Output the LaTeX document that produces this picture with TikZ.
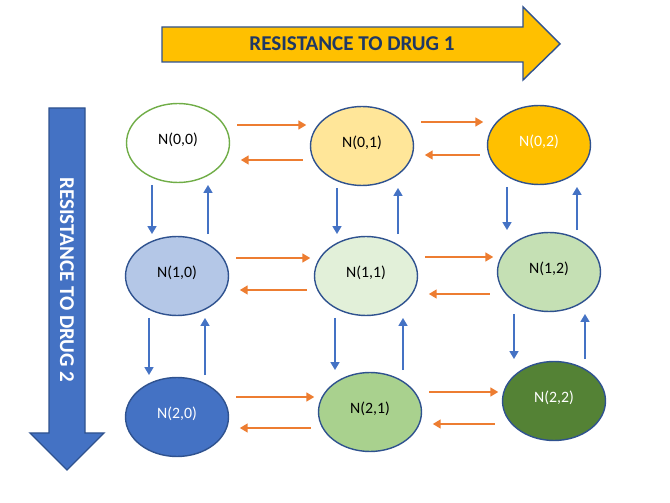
\documentclass[tikz,border=0pt]{standalone}
\usepackage{fontspec}
\setmainfont{Carlito}
\usetikzlibrary{arrows.meta}
\usetikzlibrary{shapes.geometric}
\definecolor{darkline}{HTML}{2F528F}
\definecolor{orangeline}{HTML}{ED7D31}
\definecolor{blueline}{HTML}{4472C4}
\definecolor{greenline}{HTML}{70AD47}
\definecolor{drugone}{HTML}{FFC000}
\definecolor{drugtwo}{HTML}{4472C4}
\definecolor{navytext}{HTML}{1F3864}
\definecolor{fillA}{HTML}{FFE699}
\definecolor{fillB}{HTML}{B4C7E7}
\definecolor{fillC}{HTML}{E2F0D9}
\definecolor{fillD}{HTML}{C5E0B4}
\definecolor{fillE}{HTML}{A9D18E}
\definecolor{fillF}{HTML}{548235}
\tikzset{state/.style={draw=darkline,
                       ellipse,
                       line width=0.8pt,
                       minimum width=2.06cm,
                       minimum height=1.58cm,
                       inner sep=0pt,
                       text height=6.5pt,
                       text depth=5pt,
                       font=\fontsize{9}{11}\selectfont}}
\tikzset{fwd/.style={draw=orangeline,
                     line width=1.1pt,
                     -{Triangle[length=4.5pt,width=5pt]}}}
\tikzset{vert/.style={draw=blueline,
                      line width=1.1pt,
                      -{Triangle[length=4.5pt,width=5pt]},
                      shorten <=1pt,shorten >=1pt}}
\tikzset{bigarrow/.style={draw=darkline,line width=0.8pt}}

\begin{document}
\begin{tikzpicture}
      [
      x=0.02cm,y=-0.02cm,
      bigtext/.style={font=\fontsize{12}{14}\selectfont\bfseries},
      ]
      \useasboundingbox (0,0) rectangle (670,503);

      % big arrows
      \path [bigarrow,fill=drugone] (162,27) -- (523,27) -- (523,7) -- (560,44)
      -- (523,80) -- (523,62) -- (162,62) -- cycle;
      \node [bigtext,text=navytext] (drug1) at (352,44) {RESISTANCE TO DRUG 1};

      \path [bigarrow,fill=drugtwo] (49,108) -- (85,108) -- (85,433) -- (104,433)
      -- (67,470) -- (30,433) -- (49,433) -- cycle;
      \node [bigtext,text=white,rotate=-90] (drug2) at (67,280) {RESISTANCE TO DRUG 2};

      % states
      \foreach \i/\j/\x/\y/\d/\f/\t in
      {
      0/0/178/143/greenline/white/black,
      0/1/362/146/darkline/fillA/black,
      0/2/539/145/darkline/drugone/white,
      1/0/177/276/darkline/fillB/black,
      1/1/366/276/darkline/fillC/black,
      1/2/549/272/darkline/fillD/black,
      2/0/177/417/darkline/drugtwo/white,
      2/1/370/412/darkline/fillE/black,
      2/2/554/401/darkline/fillF/white}
      {
      \node [state,draw=\d,fill=\f,text=\t] (N\i\j) at (\x,\y) {N(\i,\j)};
      }

      % drug 1 transitions
      \foreach \a/\b/\yf/\yb in
      {N00/N01/125/160, N01/N02/122/155,
       N10/N11/258/290, N11/N12/257/294,
       N20/N21/397/428, N21/N22/392/424}
      {
      \draw [fwd,shorten <=4pt,shorten >=2pt] (\a.east |- 0,\yf) -- (\b.west |- 0,\yf);
      \draw [fwd,shorten <=4pt,shorten >=6pt] (\b.west |- 0,\yb) -- (\a.east |- 0,\yb);
      }

      % drug 2 transitions
      \foreach \a/\b/\xd/\xu in
      {N00/N10/152/208, N01/N11/337/398, N02/N12/507/577,
       N10/N20/149/205, N11/N21/335/403, N12/N22/514/585}
      {
      \draw [vert] (\a.south -| \xd,0) -- (\b.north -| \xd,0);
      \draw [vert] (\b.north -| \xu,0) -- (\a.south -| \xu,0);
      }

    \end{tikzpicture}
\end{document}
